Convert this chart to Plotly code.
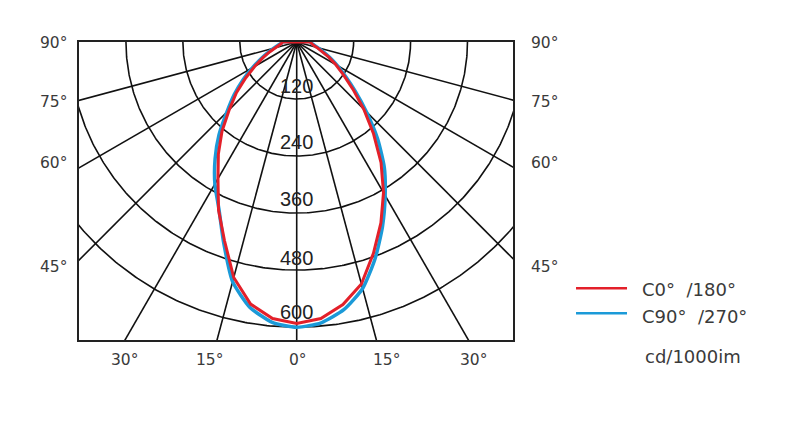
import numpy as np
import plotly.graph_objects as go

# ---- data (cd/1000lm), angle measured from nadir, negative = left half ----
angles = list(range(-90, 95, 5))
c0_180 = [30, 32, 38, 47, 61, 79, 102, 131, 166, 201, 245, 288, 332, 390, 445, 513, 560, 584,
          592,
          584, 561, 527, 473, 420, 366, 310, 252, 200, 155, 120, 95, 74, 57, 44, 35, 30, 28]
c90_270 = [30, 33, 40, 50, 64, 83, 107, 138, 172, 208, 255, 300, 345, 388, 450, 522, 567, 592,
           600,
           593, 572, 537, 484, 428, 373, 322, 265, 208, 161, 125, 99, 77, 59, 46, 37, 31, 29]

ring_values = [120, 240, 360, 480, 600]
ring_labels = ["120", "240", "360", "480", "600"]
spoke_angles = [-75, -60, -45, -30, -15, 0, 15, 30, 45, 60, 75]
side_labels = ["90°", "75°", "60°", "45°"]
bottom_labels = ["30°", "15°", "0°", "15°", "30°"]
series_names = ["C0°  /180°", "C90°  /270°"]
unit_label = "cd/1000im"

RED = "#e3202a"
BLUE = "#1b9ad8"
TXT = "#3a3a3a"
FONT = "Liberation Sans, Arial, sans-serif"
FONT2 = "DejaVu Sans, Verdana, sans-serif"

fig = go.Figure()

# grid circles
t = np.linspace(-np.pi / 2, np.pi / 2, 361)
for r in ring_values:
    fig.add_trace(go.Scatter(x=r * np.sin(t), y=-r * np.cos(t), mode="lines",
                             line=dict(color="#111111", width=1.6),
                             hoverinfo="skip", showlegend=False))
# radial lines
for a in spoke_angles:
    rad = np.radians(a)
    R = 3000
    fig.add_trace(go.Scatter(x=[0, R * np.sin(rad)], y=[0, -R * np.cos(rad)], mode="lines",
                             line=dict(color="#111111", width=1.6),
                             hoverinfo="skip", showlegend=False))


def curve(vals):
    th = np.radians(np.array(angles, dtype=float))
    v = np.array(vals, dtype=float)
    x = list(v * np.sin(th))
    y = list(-v * np.cos(th))
    x.append(x[0])
    y.append(y[0])
    return x, y


xb, yb = curve(c90_270)
fig.add_trace(go.Scatter(x=xb, y=yb, mode="lines", name=series_names[1],
                         line=dict(color=BLUE, width=3.5, shape="spline", smoothing=0.6),
                         showlegend=False))
xr, yr = curve(c0_180)
fig.add_trace(go.Scatter(x=xr, y=yr, mode="lines", name=series_names[0],
                         line=dict(color=RED, width=3),
                         showlegend=False))

annotations = []
# ring labels
ring_shift = [13, 14, 14, 12, 15]
for r, lab, s in zip(ring_values, ring_labels, ring_shift):
    annotations.append(dict(x=0, y=-r, xref="x", yref="y", text=lab, showarrow=False,
                            yanchor="middle", xanchor="center", yshift=s,
                            font=dict(family=FONT, size=20, color="#222222")))

# side labels (paper coords)
side_y = [0.9966, 0.7997, 0.593, 0.246]
for lab, yy in zip(side_labels, side_y):
    annotations.append(dict(x=-0.0945, y=yy, xref="paper", yref="paper", text=lab,
                            showarrow=False, xanchor="left", yanchor="middle",
                            font=dict(family=FONT2, size=15.5, color=TXT)))
    annotations.append(dict(x=1.0369, y=yy, xref="paper", yref="paper", text=lab,
                            showarrow=False, xanchor="left", yanchor="middle",
                            font=dict(family=FONT2, size=15.5, color=TXT)))

bottom_x = [0.1037, 0.3018, 0.5046, 0.7074, 0.9101]
for lab, xx in zip(bottom_labels, bottom_x):
    annotations.append(dict(x=xx, y=-0.0671, xref="paper", yref="paper", text=lab,
                            showarrow=False, xanchor="center", yanchor="middle",
                            font=dict(family=FONT2, size=15.5, color=TXT)))

# manual legend
shapes = [
    dict(type="line", xref="paper", yref="paper", x0=1.1452, x1=1.2627, y0=0.1735, y1=0.1735,
         line=dict(color=RED, width=2.5)),
    dict(type="line", xref="paper", yref="paper", x0=1.1452, x1=1.2627, y0=0.0896, y1=0.0896,
         line=dict(color=BLUE, width=2.5)),
]
annotations.append(dict(x=1.2926, y=0.1678, xref="paper", yref="paper", text=series_names[0],
                        showarrow=False, xanchor="left", yanchor="middle",
                        font=dict(family=FONT2, size=18, color=TXT)))
annotations.append(dict(x=1.2926, y=0.0782, xref="paper", yref="paper", text=series_names[1],
                        showarrow=False, xanchor="left", yanchor="middle",
                        font=dict(family=FONT2, size=18, color=TXT)))
annotations.append(dict(x=1.2995, y=-0.056, xref="paper", yref="paper", text=unit_label,
                        showarrow=False, xanchor="left", yanchor="middle",
                        font=dict(family=FONT2, size=18, color=TXT)))

axis_common = dict(showgrid=False, zeroline=False, showticklabels=False, ticks="",
                   showline=True, mirror=True, linecolor="#222222", linewidth=2)

fig.update_layout(
    width=800, height=434,
    margin=dict(l=79, r=287, t=42, b=94, pad=0),
    paper_bgcolor="white", plot_bgcolor="white",
    xaxis=dict(range=[-459, 456], **axis_common),
    yaxis=dict(range=[-627, 0], **axis_common),
    annotations=annotations, shapes=shapes,
    showlegend=False,
)

fig.write_html("out.html", config={"displayModeBar": False},
               post_script="document.body.style.margin='0';document.body.style.overflow='hidden';")
